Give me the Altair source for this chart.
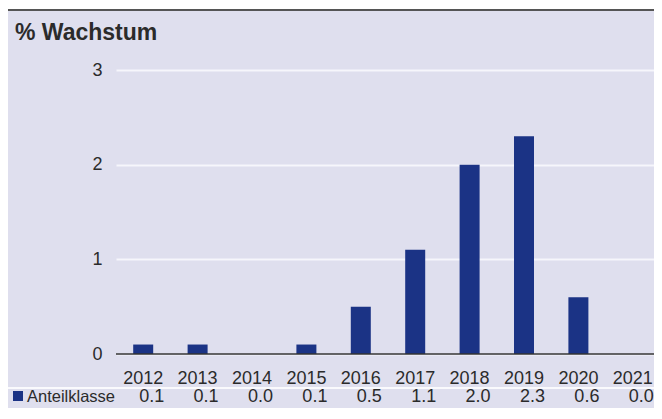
import altair as alt
import pandas as pd

# ---- data ----
years = ["2012", "2013", "2014", "2015", "2016", "2017", "2018", "2019", "2020", "2021"]
values = [0.1, 0.1, 0.0, 0.1, 0.5, 1.1, 2.0, 2.3, 0.6, 0.0]
value_labels = ["0.1", "0.1", "0.0", "0.1", "0.5", "1.1", "2.0", "2.3", "0.6", "0.0"]
y_ticks = [0, 1, 2, 3]
title_text = "% Wachstum"
series_name = "Anteilklasse"

df = pd.DataFrame({"year": years, "value": values, "label": value_labels})
one = pd.DataFrame({"t": [title_text], "s": [series_name]})

FONT = "Liberation Sans"
TEXT = "#2b2b2b"
BAR = "#1b3385"
BG = "#dfdfee"

xscale = alt.Scale(domain=years, paddingInner=0, paddingOuter=0)
yscale = alt.Scale(domain=[0, 3])

bars = alt.Chart(df).mark_bar(color=BAR, size=20).encode(
    x=alt.X("year:N", scale=xscale, sort=years,
            axis=alt.Axis(domain=False, ticks=False, tickSize=0, labelAngle=0,
                          labelPadding=29, labelBaseline="alphabetic",
                          labelFont=FONT, labelFontSize=18, labelColor=TEXT,
                          title=None, grid=False)),
    y=alt.Y("value:Q", scale=yscale,
            axis=alt.Axis(values=y_ticks, format="d", grid=True, gridColor="#f6f6fb",
                          gridWidth=2, domain=False, ticks=False, tickSize=0,
                          labelPadding=14, labelFont=FONT, labelFontSize=18,
                          labelColor=TEXT, title=None)),
)

zero = alt.Chart(one).mark_rule(color="#333333", strokeWidth=1.5).encode(y=alt.datum(0))

top_white = alt.Chart(one).mark_rect(color="white").encode(
    x=alt.value(-108), x2=alt.value(544), y=alt.value(-62), y2=alt.value(-61))

top_line = alt.Chart(one).mark_rule(color="#555555", strokeWidth=2).encode(
    x=alt.value(-108), x2=alt.value(544), y=alt.value(-60))

sep_line = alt.Chart(one).mark_rule(color="#fafafd", strokeWidth=2).encode(
    x=alt.value(-108), x2=alt.value(544), y=alt.value(318))

title = alt.Chart(one).mark_text(align="left", baseline="alphabetic", font=FONT,
                                 fontSize=23, fontWeight="bold", color=TEXT).encode(
    x=alt.value(-101), y=alt.value(-30), text="t:N")

square = alt.Chart(one).mark_square(size=100, color=BAR, opacity=1, filled=True).encode(
    x=alt.value(-98), y=alt.value(326))

series_label = alt.Chart(one).mark_text(align="left", baseline="alphabetic", font=FONT,
                                        fontSize=16.5, color=TEXT).encode(
    x=alt.value(-89), y=alt.value(332), text="s:N")

val_text = alt.Chart(df).mark_text(align="right", dx=21, baseline="alphabetic", font=FONT,
                                   fontSize=18, color=TEXT).encode(
    x=alt.X("year:N", scale=xscale, sort=years), y=alt.value(332), text="label:N")

chart = alt.layer(
    bars, zero, top_white, top_line, sep_line, title, square, series_label, val_text
).properties(
    width=544, height=284,
    padding={"left": 108, "top": 62, "right": -6, "bottom": 54},
    autosize=alt.AutoSizeParams(type="none"),
    background=BG,
).configure_view(stroke=None)

chart.save("out.html", embed_options={"renderer": "svg", "actions": False})
